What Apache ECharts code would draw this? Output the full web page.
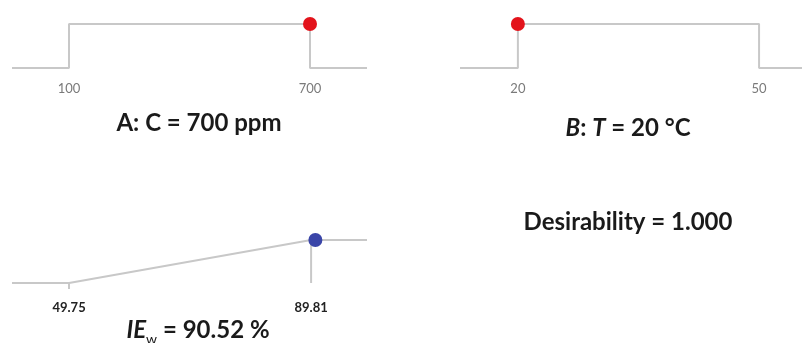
<!DOCTYPE html>
<html>
<head>
<meta charset="utf-8">
<script src="https://cdn.jsdelivr.net/npm/echarts@6/dist/echarts.min.js"></script>
<style>
  html, body { margin: 0; padding: 0; background: #fff; }
  #chart { width: 802px; height: 343px; }
</style>
</head>
<body>
<div id="chart"></div>
<script>
// Factor A (concentration, ppm): desirability range limits and chosen setting
const aLimits = [100, 700];
const aSetting = 700;
// Factor B (temperature, °C)
const bLimits = [20, 50];
const bSetting = 20;
// Response IE_w (%): ramp limits and predicted value
const ieLimits = [49.75, 89.81];
const iePredicted = 90.52;
// Overall desirability
const desirability = 1.000;

const lineColor = '#c8c8c8';
const labelFont = 'Lato';

// Extend the ramp lines past the limits by a fraction of the range
function extent(lim, padL, padR) {
  const r = lim[1] - lim[0];
  return [lim[0] - r * padL, lim[1] + r * padR];
}
const aExt = extent(aLimits, 0.2365, 0.2365);
const bExt = extent(bLimits, 0.24, 0.178);
const ieExt = extent(ieLimits, 0.2357, 0.231);

// Step-shaped desirability for a factor kept in range
function stepData(lim, ext) {
  return [[ext[0], 0], [lim[0], 0], [lim[0], 1], [lim[1], 1], [lim[1], 0], [ext[1], 0]];
}
// Ramp-shaped desirability for a maximised response
function rampData(lim, ext) {
  return [[ext[0], 0], [lim[0], 0], [lim[1], 1], [ext[1], 1]];
}

function xAxisFor(gridIndex, ext, ticks, labelStyle, showTick) {
  return {
    type: 'value', gridIndex, min: ext[0], max: ext[1],
    axisLine: { show: false },
    splitLine: { show: false },
    axisTick: showTick
      ? { show: true, customValues: showTick, length: 6, lineStyle: { color: lineColor, width: 2 } }
      : { show: false },
    axisLabel: Object.assign({ customValues: ticks, formatter: v => String(v) }, labelStyle)
  };
}
function yAxisFor(gridIndex) {
  return { type: 'value', gridIndex, min: 0, max: 1, show: false };
}

const greyLabels = { color: '#7a7a7a', fontSize: 13, fontFamily: labelFont, margin: 14 };
const darkLabels = { color: '#222', fontSize: 13, fontWeight: 'bold', fontFamily: labelFont, margin: 18 };

const lineStyle = { color: lineColor, width: 2 };
function line(idx, data) {
  return { type: 'line', xAxisIndex: idx, yAxisIndex: idx, data, showSymbol: false,
           lineStyle, silent: true, animation: false, clip: false };
}
function dot(idx, x, y, color) {
  return { type: 'scatter', xAxisIndex: idx, yAxisIndex: idx, data: [[x, y]],
           symbolSize: 14, itemStyle: { color, opacity: 1 }, silent: true, animation: false, z: 5 };
}

const titleBase = { fontFamily: labelFont, fontWeight: 'bold', fontSize: 24, fill: '#1a1a1a' };
function titleText(x, y, text, rich) {
  return { type: 'text', x, y, silent: true,
    style: Object.assign({}, titleBase, { text, rich, align: 'center', verticalAlign: 'middle',
      textAlign: 'center', textVerticalAlign: 'middle' }) };
}

const option = {
  backgroundColor: '#fff',
  animation: false,
  grid: [
    { left: 12, top: 24, width: 355, height: 44 },
    { left: 460, top: 24, width: 342, height: 44 },
    { left: 12, top: 240, width: 355, height: 43 }
  ],
  xAxis: [
    xAxisFor(0, aExt, aLimits, greyLabels, null),
    xAxisFor(1, bExt, bLimits, greyLabels, null),
    xAxisFor(2, ieExt, ieLimits, darkLabels, [ieLimits[0]])
  ],
  yAxis: [yAxisFor(0), yAxisFor(1), yAxisFor(2)],
  series: [
    line(0, stepData(aLimits, aExt)),
    dot(0, aSetting, 1, '#e3131b'),
    line(1, stepData(bLimits, bExt)),
    dot(1, bSetting, 1, '#e3131b'),
    line(2, rampData(ieLimits, ieExt)),
    line(2, [[ieLimits[1], 1], [ieLimits[1], 0]]),
    dot(2, iePredicted, 1, '#3a45a8')
  ],
  graphic: [
    titleText(199, 123, 'A: C = ' + aSetting + ' ppm'),
    titleText(628, 128, '{i|B}{n|: }{i|T}{n| = ' + bSetting + ' °C}', {
      i: Object.assign({}, titleBase, { fontStyle: 'italic' }),
      n: Object.assign({}, titleBase)
    }),
    titleText(198, 330, '{i|IE}{s|w}{n| = ' + iePredicted.toFixed(2) + ' %}', {
      i: Object.assign({}, titleBase, { fontStyle: 'italic', lineHeight: 32 }),
      s: Object.assign({}, titleBase, { fontSize: 14, fontWeight: 'normal', lineHeight: 14, verticalAlign: 'bottom' }),
      n: Object.assign({}, titleBase, { lineHeight: 32 })
    }),
    titleText(628, 222, 'Desirability = ' + desirability.toFixed(3))
  ]
};

const chart = echarts.init(document.getElementById('chart'), null, { renderer: 'canvas' });
chart.setOption(option);
</script>
</body>
</html>
